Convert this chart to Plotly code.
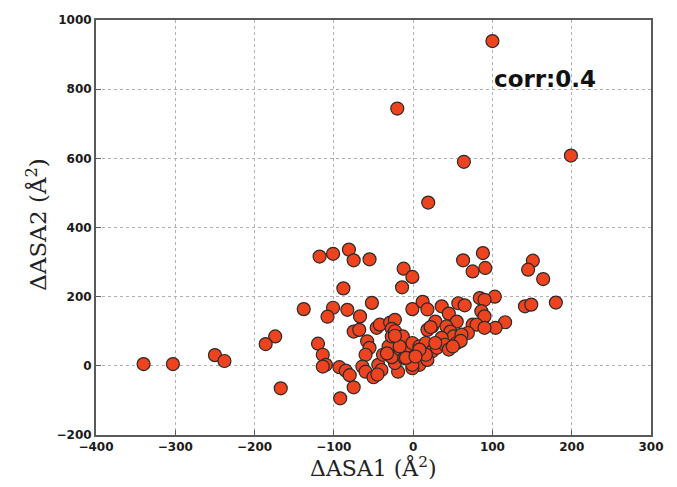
import plotly.graph_objects as go

# Data (ΔASA1, ΔASA2)
delta_asa1 = [
    100, -20, 199, 64, 19,
    -118, -101, -81, -75, -55, -88, -12, -1, -14,
    63, 88, 75, 91, 151, 145, 164,
    103, 84, 90, 141, 149, 180, 116, 104, 86, 90, 75, 80, 90, 69,
    -138, -101, -108, -83, -67, -52,
    -174, -186, -250, -238, -340, -303, -167, -92, -75,
    -120, -114, -110, -114, -93, -85, -80,
    -75, -68,
    -1, 12, 18, 36, 45, 57, 65, 55,
    -46, -42, -29, -23, -27,
    -58, -55, -60, -64, -60, -50, -44, -40, -38, -31, -27, -23, -19, -23, -27,
    -15, -13, -16, -11, -5, -1, 1, 8, 8, 16, 18, 24, 24, 30, 18, -1, -1, -9, -17,
    28, 22, 42, 47, 51, 55, 61, 36, 40, 45, 28, 16, 8, 3,
    60, 50, -45, -33, -23,
]
delta_asa2 = [
    939, 744, 608, 590, 472,
    316, 324, 336, 305, 308, 224, 281, 257, 227,
    305, 326, 273, 283, 304, 278, 251,
    200, 196, 191, 172, 177, 183, 126, 110, 158, 143, 119, 119, 110, 95,
    164, 168, 142, 162, 143, 182,
    85, 63, 31, 14, 5, 5, -65, -94, -62,
    64, 32, 3, -2, -4, -14, -27,
    99, 104,
    164, 185, 163, 172, 151, 181, 175, 128,
    110, 119, 125, 133, 107,
    71, 52, 32, -2, -17, -33, 3, -12, 32, 56, 85, 100, -17, 8, 25,
    76, 85, 47, 23, 52, 66, 27, 3, 56, 66, 104, 114, 42, 52, 17, -7, 3, 23, 56,
    128, 112, 114, 99, 85, 66, 90, 81, 61, 47, 66, 32, 47, 27,
    72, 56, -25, 36, 87,
]

x_ticks = [-400, -300, -200, -100, 0, 100, 200, 300]
y_ticks = [-200, 0, 200, 400, 600, 800, 1000]
corr_label = "corr:0.4"

fig = go.Figure()
fig.add_trace(go.Scatter(
    x=delta_asa1, y=delta_asa2, mode="markers",
    marker=dict(size=13, color="#ee431f", line=dict(color="#2a2a2a", width=1.2)),
    showlegend=False,
))

axis_common = dict(
    showline=True, mirror=True, linecolor="#5a5a5a", linewidth=2,
    showgrid=True, gridcolor="#b0b0b0", griddash="dot", gridwidth=1,
    zeroline=False, ticks="inside", ticklen=5, tickcolor="#5a5a5a",
    ticklabeloverflow="allow",
    tickfont=dict(family="DejaVu Sans", size=12, color="#1a1a1a", weight="bold"),
)

fig.update_xaxes(range=[-400, 300], tickvals=x_ticks,
                 ticktext=[str(v).replace("-", "\u2212") for v in x_ticks], **axis_common)
fig.update_yaxes(range=[-200, 1000], tickvals=y_ticks,
                 ticktext=[str(v).replace("-", "\u2212") for v in y_ticks], **axis_common)

fig.add_annotation(x=100, y=830, xref="x", yref="y", text=corr_label, showarrow=False,
                   xanchor="left", yanchor="middle",
                   font=dict(family="DejaVu Sans", size=23, color="#111111", weight="bold"))

fig.add_annotation(x=0.5, y=-0.077, xref="paper", yref="paper",
                   text="\u0394ASA1 (\u00c5<sup>2</sup>)", showarrow=False,
                   xanchor="center", yanchor="middle",
                   font=dict(family="DejaVu Serif", size=22, color="#222222"))
fig.add_annotation(x=-0.107, y=0.506, xref="paper", yref="paper",
                   text="\u0394ASA2 (\u00c5<sup>2</sup>)", showarrow=False, textangle=-90,
                   xanchor="center", yanchor="middle",
                   font=dict(family="DejaVu Serif", size=23, color="#222222"))

# The page body keeps its default 8px margin, so the figure is 16px smaller than the window.
fig.update_layout(
    width=661, height=471,
    margin=dict(l=88, r=5, t=12, b=44),
    plot_bgcolor="white", paper_bgcolor="white",
)

fig.write_html(
    "out.html", config={"displayModeBar": False},
    post_script=(
        "document.querySelectorAll('svg.main-svg, .svg-container, .plot-container')"
        ".forEach(function(e){e.style.overflow='visible';});"
    ),
)
